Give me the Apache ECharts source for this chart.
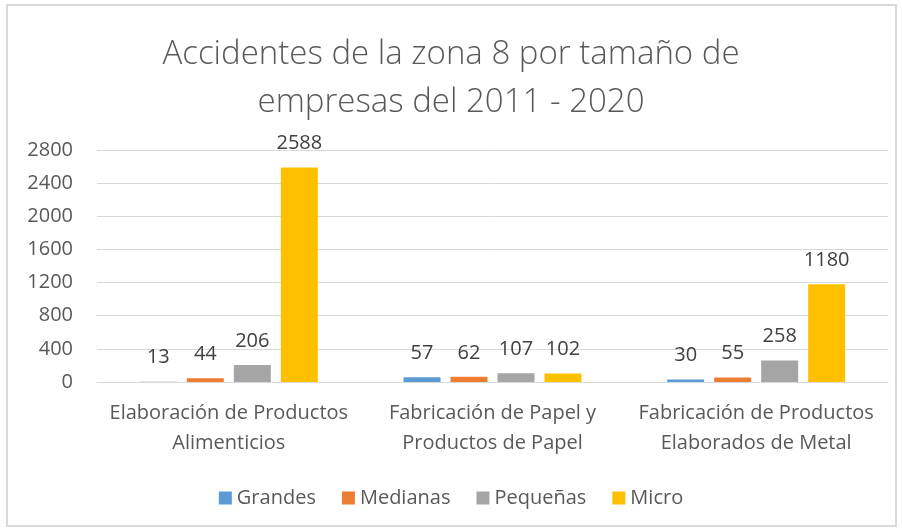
<!DOCTYPE html>
<html>
<head>
<meta charset="utf-8">
<script src="https://cdn.jsdelivr.net/npm/echarts@6/dist/echarts.min.js"></script>
<style>
  html, body { margin: 0; padding: 0; background: #fff; }
  #main { width: 902px; height: 531px; }
</style>
</head>
<body>
<div id="main"></div>
<script>
var categories = ['Elaboración de Productos\nAlimenticios', 'Fabricación de Papel y\nProductos de Papel', 'Fabricación de Productos\nElaborados de Metal'];
var seriesNames = ['Grandes', 'Medianas', 'Pequeñas', 'Micro'];
var grandes = [13, 57, 30];
var medianas = [44, 62, 55];
var pequenas = [206, 107, 258];
var micro = [2588, 102, 1180];
var colors = ['#5b9bd5', '#ed7d31', '#a5a5a5', '#ffc000'];

var myChart = echarts.init(document.getElementById('main'));

function makeSeries(name, values, idx) {
    var data = values.map(function (v, i) {
        // the first "Grandes" bar is drawn pale in the original
        if (idx === 0 && i === 0) {
            return { value: v, itemStyle: { color: '#dde5ee' } };
        }
        return v;
    });
    return {
        name: name,
        type: 'bar',
        data: data,
        barWidth: 37,
        barGap: '27%',
        itemStyle: { color: colors[idx] },
        label: {
            show: true,
            position: 'top',
            distance: 14,
            color: '#404040',
            fontSize: 20,
            fontFamily: 'Open Sans'
        }
    };
}

var allValues = [grandes, medianas, pequenas, micro];

var option = {
    animation: false,
    backgroundColor: '#fff',
    color: colors,
    title: {
        text: 'Accidentes de la zona 8 por tamaño de\nempresas del 2011 - 2020',
        left: 'center',
        top: 26,
        textStyle: {
            color: '#595959',
            fontSize: 33,
            fontWeight: 300,
            fontFamily: 'Open Sans',
            lineHeight: 48
        }
    },
    graphic: [{
        type: 'rect',
        shape: { x: 7, y: 5, width: 889, height: 521 },
        style: { fill: 'none', stroke: '#d9d9d9', lineWidth: 2 },
        silent: true
    }],
    legend: {
        data: seriesNames,
        top: 483,
        left: 'center',
        itemWidth: 13,
        itemHeight: 13,
        itemGap: 26,
        icon: 'rect',
        textStyle: { color: '#595959', fontSize: 20, fontFamily: 'Open Sans' }
    },
    grid: {
        left: 97,
        right: 14,
        top: 150,
        bottom: 149
    },
    xAxis: {
        type: 'category',
        data: categories,
        axisTick: { show: false },
        axisLine: { lineStyle: { color: '#d9d9d9', width: 1 } },
        axisLabel: {
            color: '#595959',
            fontSize: 20,
            fontFamily: 'Open Sans',
            lineHeight: 30,
            margin: 16,
            interval: 0
        }
    },
    yAxis: {
        type: 'value',
        min: 0,
        max: 2800,
        interval: 400,
        axisLine: { show: false },
        axisTick: { show: false },
        splitLine: { lineStyle: { color: '#d9d9d9', width: 1 } },
        axisLabel: {
            color: '#595959',
            fontSize: 20,
            fontFamily: 'Open Sans',
            margin: 24,
            formatter: function (v) { return String(v); }
        }
    },
    series: seriesNames.map(function (n, i) { return makeSeries(n, allValues[i], i); })
};

myChart.setOption(option);
</script>
</body>
</html>
